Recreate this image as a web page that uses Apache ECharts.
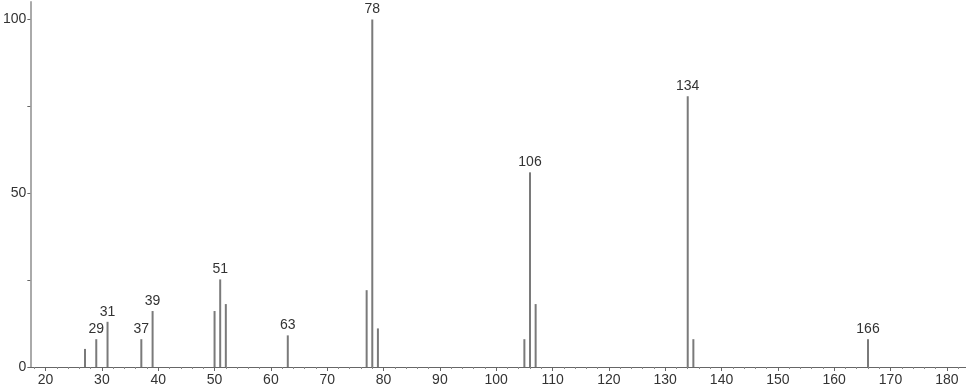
<!DOCTYPE html>
<html><head><meta charset="utf-8">
<script src="https://cdn.jsdelivr.net/npm/echarts@6/dist/echarts.min.js"></script>
<style>html,body{margin:0;padding:0;background:#fff}#c{width:966px;height:389px}</style>
</head><body><div id="c"></div>
<script>
var mz = [27, 29, 31, 37, 39, 50, 51, 52, 63, 77, 78, 79, 105, 106, 107, 134, 135, 166];
var intensity = [5.2, 8.0, 13.0, 8.0, 16.1, 16.1, 25.2, 18.1, 9.1, 22.1, 100, 11.1, 8.0, 56.0, 18.1, 77.9, 8.0, 8.0];
var labeledPeaks = [29, 31, 37, 39, 51, 63, 78, 106, 134, 166];
var xMajorTicks = [20, 30, 40, 50, 60, 70, 80, 90, 100, 110, 120, 130, 140, 150, 160, 170, 180];
var xMinorTicks = [];
for (var t = 18; t <= 182; t += 2) { if (t % 10 !== 0) xMinorTicks.push(t); }
var yLabels = [0, 50, 100];
var yTicks = [0, 25, 50, 75, 100];

var FONT = 'Liberation Sans';
var data = mz.map(function (m, i) {
  var d = { value: [m, intensity[i]] };
  if (labeledPeaks.indexOf(m) >= 0) {
    d.label = { show: true, position: 'top', distance: 3, formatter: String(m),
      color: '#333', fontFamily: FONT, fontSize: 14 };
  }
  return d;
});

var chart = echarts.init(document.getElementById('c'), null, { renderer: 'canvas' });
chart.setOption({
  animation: false,
  grid: { left: 28, right: 0, top: 2, bottom: 22, containLabel: false },
  xAxis: [{
    type: 'value', min: 17.3, max: 183.4,
    splitLine: { show: false },
    axisLine: { show: true, onZero: false, lineStyle: { color: '#666', width: 1 } },
    axisTick: { show: true, customValues: xMajorTicks, length: 4, lineStyle: { color: '#666' } },
    axisLabel: { customValues: xMajorTicks, color: '#333', fontFamily: FONT, fontSize: 14, margin: 6 }
  }, {
    type: 'value', min: 17.3, max: 183.4, position: 'bottom',
    splitLine: { show: false },
    axisLine: { show: false },
    axisTick: { show: true, customValues: xMinorTicks, length: 2, lineStyle: { color: '#888' } },
    axisLabel: { show: false }
  }],
  yAxis: {
    type: 'value', min: 0, max: 105,
    splitLine: { show: false },
    axisLine: { show: true, lineStyle: { color: '#aaa', width: 2 } },
    axisTick: { show: true, customValues: yTicks, length: 3, lineStyle: { color: '#666' } },
    axisLabel: { customValues: yLabels, color: '#333', fontFamily: FONT, fontSize: 14, margin: 4 }
  },
  series: [{
    type: 'bar', xAxisIndex: 0, barWidth: 2, data: data,
    itemStyle: { color: '#7a7a7a' },
    label: { show: false }
  }]
});
</script></body></html>
